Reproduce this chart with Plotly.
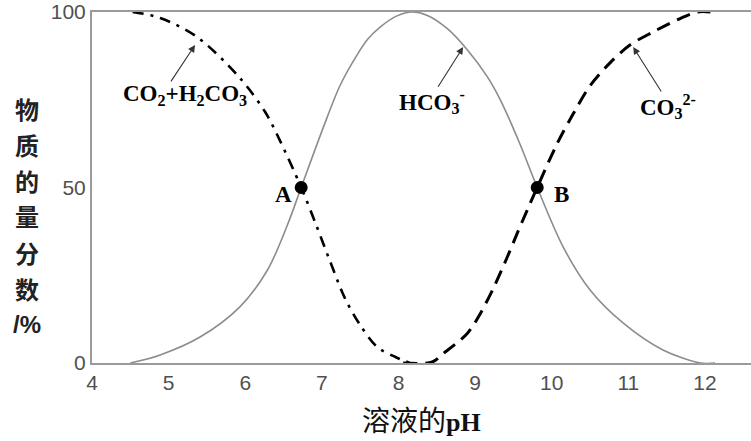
import plotly.graph_objects as go

# ---- data (pH vs. mole fraction %) ----
h2co3_ph = [4.53, 4.89, 5.37, 5.93, 6.26, 6.45, 6.73, 6.91, 7.11, 7.30, 7.50, 7.72, 7.96, 8.15]
h2co3_pct = [100, 98.3, 92.9, 81.2, 71.5, 63.5, 50.0, 40.2, 28.8, 18.5, 10.8, 4.6, 1.7, 0]

hco3_ph = [4.50, 4.89, 5.41, 5.93, 6.29, 6.55, 6.73, 7.02, 7.24, 7.46, 7.60, 7.76, 7.98, 8.18,
           8.37, 8.63, 8.90, 9.16, 9.33, 9.59, 9.81, 10.15, 10.50, 10.93, 11.45, 11.94, 12.13]
hco3_pct = [0, 2.3, 7.4, 16.0, 26.5, 39.3, 50.0, 67.2, 79.2, 87.8, 92.3, 95.7, 98.9, 100,
            99.1, 95.4, 89.2, 81.5, 74.9, 62.1, 50.0, 33.0, 20.8, 11.4, 3.7, 0, 0]

co3_ph = [8.06, 8.44, 8.58, 8.90, 9.07, 9.24, 9.42, 9.55, 9.68, 9.81, 10.07, 10.28,
          10.50, 10.76, 11.02, 11.32, 11.64, 11.90, 12.07]
co3_pct = [0, 0.3, 2.6, 8.5, 14.2, 21.4, 30.2, 37.0, 43.6, 50.0, 62.5, 71.0,
           79.0, 85.5, 90.6, 94.3, 97.8, 100, 100]

point_names = ["A", "B"]
point_ph = [6.73, 9.81]
point_pct = [50, 50]

x_ticks = [4, 5, 6, 7, 8, 9, 10, 11, 12]
y_ticks = [0, 50, 100]

species_labels = ["CO<sub>2</sub>+H<sub>2</sub>CO<sub>3</sub>", "HCO<sub>3</sub><sup>-</sup>", "CO<sub>3</sub><sup>2-</sup>"]
ylabel_chars = ["物", "质", "的", "量", "分", "数", "/%"]

SERIF = "Liberation Serif, Times New Roman, serif"
CJK = "Noto Sans CJK SC"

W, H = 751, 441
L, T, B = 92, 12, 78
PW = W - L          # plot width
PH = H - T - B      # plot height


def px_to_paper_x(px):
    return (px - L) / PW


def py_to_paper_y(py):
    return (H - B - py) / PH


fig = go.Figure()
fig.add_trace(go.Scatter(x=hco3_ph, y=hco3_pct, mode="lines",
                         line=dict(color="#8c8c8c", width=1.6, shape="spline", smoothing=0.9)))
fig.add_trace(go.Scatter(x=h2co3_ph, y=h2co3_pct, mode="lines",
                         line=dict(color="black", width=2.6, dash="11px,7px,3px,7px", shape="spline", smoothing=0.9)))
fig.add_trace(go.Scatter(x=co3_ph, y=co3_pct, mode="lines",
                         line=dict(color="black", width=3, dash="14px,8px", shape="spline", smoothing=0.9)))
fig.add_trace(go.Scatter(x=point_ph, y=point_pct, mode="markers",
                         marker=dict(color="black", size=13), cliponaxis=False))

# A / B labels
for name, px, py, dx in zip(point_names, point_ph, point_pct, [-18, 24]):
    fig.add_annotation(x=px, y=py, text=f"<b>{name}</b>", showarrow=False, xshift=dx, yshift=-7,
                       font=dict(family=SERIF, size=23, color="black"))

# species labels and arrows
label_pos = [(5.21, 76.4), (8.44, 74.6), (11.52, 73.0)]
arrows = [((5.345, 90.6), (5.018, 79.8)), ((8.843, 90.0), (8.504, 78.3)), ((11.063, 90.0), (11.441, 76.9))]
for txt, (lx, ly), ((tx, ty), (sx, sy)) in zip(species_labels, label_pos, arrows):
    fig.add_annotation(x=lx, y=ly, text=f"<b>{txt}</b>", showarrow=False,
                       font=dict(family=SERIF, size=23, color="black"))
    fig.add_annotation(x=tx, y=ty, ax=sx, ay=sy, axref="x", ayref="y", text="", showarrow=True,
                       arrowhead=2, arrowsize=1.3, arrowwidth=1.1, arrowcolor="#333")

# y axis title (vertical characters)
for i, ch in enumerate(ylabel_chars):
    fig.add_annotation(xref="paper", yref="paper", x=px_to_paper_x(27), y=py_to_paper_y(108 + 36 * i),
                       xanchor="center", yanchor="middle", text=f"<b>{ch}</b>", showarrow=False,
                       font=dict(family=CJK if i < 6 else "Liberation Sans", size=24, color="#222"))

# x axis title
fig.add_annotation(xref="paper", yref="paper", x=px_to_paper_x(421), y=py_to_paper_y(419),
                   xanchor="center", yanchor="middle", showarrow=False,
                   text=f"<span style='font-family:{CJK};font-size:28px'>溶液的</span><b>pH</b>",
                   font=dict(family=SERIF, size=26, color="#111"))

fig.update_xaxes(range=[4, 12.6], tickvals=x_ticks, ticktext=[str(v) for v in x_ticks],
                 showgrid=False, zeroline=False, showline=True, linecolor="#9a9a9a", linewidth=2,
                 mirror=True, ticks="", tickfont=dict(family="Liberation Sans", size=21, color="#505050"))
fig.update_yaxes(range=[0, 100], tickvals=y_ticks, showgrid=False, zeroline=False, showline=True,
                 linecolor="#9a9a9a", linewidth=2, ticks="", ticklen=0,
                 tickfont=dict(family="Liberation Sans", size=21, color="#505050"))

fig.update_layout(width=W, height=H, margin=dict(l=L, r=0, t=T, b=B),
                  paper_bgcolor="white", plot_bgcolor="white", showlegend=False)

fig.write_html("out.html", config={"displayModeBar": False},
               post_script="document.body.style.margin='0px';")
